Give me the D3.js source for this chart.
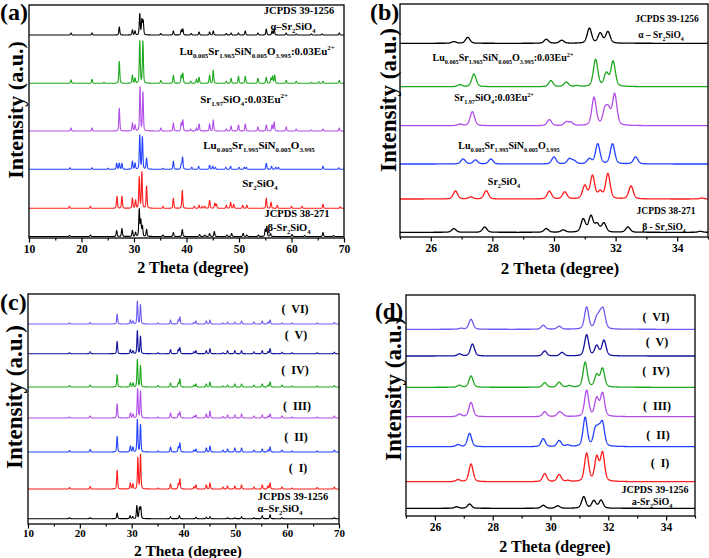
<!DOCTYPE html>
<html><head><meta charset="utf-8">
<script src="https://cdn.jsdelivr.net/npm/d3@7"></script>
<style>body{margin:0;background:#fff}svg{display:block}text{font-family:"Liberation Serif","Times New Roman",serif;font-weight:bold}</style>
</head><body><svg id="c" width="709" height="558"></svg>
<script>
// ---------------- DATA (peak position 2θ, relative intensity a.u.) ----------------
// Panel (a): 10–70°
const aAlphaRef = [[18.0,2],[22.0,2],[27.2,8],[29.7,5],[30.2,4],[31.1,21],[31.5,15],[31.75,14],[35.1,1.5],[37.5,4],[39.0,5],[39.3,6],[40.9,1.5],[42.4,3],[44.4,3],[45.1,4],[47.6,1.5],[48.5,2],[49.9,2],[51.2,4],[53.6,2],[55.2,6],[56.3,4],[56.7,6],[59.0,2],[60.9,1],[63.8,1],[65.8,1],[69.1,2]];
const aLuSrEu = [[18.0,3.5],[22.0,4],[24.3,1],[27.2,22],[29.7,8],[30.2,5],[31.1,42],[31.7,42],[35.1,3],[37.5,8],[39.0,8],[39.3,10],[40.8,2],[41.9,4],[42.4,6],[44.4,8],[45.1,13],[47.6,2],[48.5,5],[49.9,7],[51.2,7],[53.6,5],[55.2,6],[56.1,5],[56.4,7],[56.8,8],[59.0,3],[60.9,2],[63.8,1],[65.2,1.5],[66.0,2],[69.1,3]];
const aSrEu = [[18.0,3],[22.0,3],[27.2,22.7],[29.7,8],[30.2,6],[31.15,44],[31.7,38.7],[35.1,3],[37.5,8],[39.0,8],[39.3,11],[40.8,2],[41.9,3],[42.4,7],[44.4,7],[45.1,11],[47.6,2],[48.5,5],[49.9,6],[51.2,7],[53.6,4],[55.2,6],[56.3,6],[56.7,9],[59.0,4],[60.9,2],[63.8,1],[66.0,2],[69.1,3]];
const aLuSr = [[17.8,1.5],[22.0,1.5],[25.0,1],[26.7,6],[27.2,6],[27.7,6],[29.7,8],[30.2,6],[31.1,34],[31.6,32],[32.4,11],[35.5,1],[37.5,8],[39.0,5],[39.25,12],[41.0,2],[42.3,3],[44.4,4],[45.0,3],[45.5,2],[47.5,2],[48.4,3],[50.0,2],[51.0,2],[51.4,2],[55.2,6],[56.2,3],[57.0,2],[57.5,2],[66.0,3],[69.0,1.5]];
const aSr2SiO4 = [[17.7,2],[21.7,2],[26.75,12],[27.7,12],[29.7,10],[30.3,8],[31.0,31],[31.5,36],[32.4,22],[35.5,2],[37.5,10],[39.2,18],[41.5,2],[42.4,3],[43.0,2],[43.5,2],[44.4,8],[45.4,5],[45.7,4],[47.6,3],[48.4,6],[49.0,4],[50.7,3],[51.5,3],[55.2,10],[56.1,6],[57.3,3],[60.0,2],[62.0,2],[66.0,4],[69.3,1.5]];
const aBetaRef = [[17.7,1],[21.7,1.5],[26.7,6],[27.7,8],[29.7,6],[30.3,4],[31.0,27],[31.3,16],[31.6,10],[32.4,7],[35.5,1.5],[37.5,4],[39.2,7],[42.5,2],[43.5,1.5],[44.4,3],[45.3,5],[47.7,1.5],[48.6,3],[50.8,3],[51.5,1.5],[53.7,1.5],[55.0,7],[55.3,10],[56.0,3],[60.1,2],[62.5,1],[66.0,4],[68.0,1]];

// Panel (b): 25–35°
const bAlphaRef = [[26.75,1.7],[27.2,6],[29.75,4],[30.25,3],[31.15,15],[31.5,10],[31.75,11.5]];
const bLuSrEu = [[26.95,2],[27.4,12.7],[29.9,6],[30.4,4.5],[30.75,1],[31.35,27],[31.7,13],[31.92,25]];
const bSrEu = [[26.95,1.5],[27.35,14],[29.85,6],[30.4,3.5],[30.55,3],[31.3,28],[31.65,14],[31.77,14],[31.97,31]];
const bLuSr = [[27.05,5],[27.45,4],[27.95,5],[30.0,7],[30.5,5],[30.65,3],[31.15,5],[31.42,20],[31.9,20],[32.65,7]];
const bSr2SiO4 = [[26.8,8],[27.3,2],[27.8,8.3],[29.85,7.7],[30.35,7],[31.0,13],[31.25,23],[31.5,7],[31.75,25],[32.5,13],[34.8,1]];
const bBetaRef = [[26.75,3.7],[27.75,5.3],[29.75,3.7],[30.3,2.3],[30.95,13],[31.2,16],[31.4,8],[31.62,9],[32.4,5.3],[34.75,1]];

// Panel (c): 10–70°, samples I–VI
const cVI = [[18.0,1],[22.0,1.5],[27.2,10],[29.75,4],[30.25,3],[31.1,22.7],[31.7,19.3],[35.1,1],[37.5,4],[39.0,4],[39.3,7],[42.0,1.5],[42.4,3],[44.4,3],[45.1,4],[47.6,1],[48.5,2],[49.9,2],[51.2,3],[53.6,2],[55.2,3],[56.3,2],[56.7,4],[59.0,1],[60.9,1],[65.8,1],[69.1,1.5]];
const cV = [[18.0,1],[22.0,2],[27.2,12.3],[29.75,4],[30.25,3],[31.1,23],[31.7,17.3],[35.1,1],[37.5,4],[39.0,4],[39.3,6],[42.0,2],[42.4,3],[44.4,3],[45.1,5],[47.6,1],[48.5,3],[49.9,3],[51.2,3],[53.6,2],[55.2,3],[56.3,2],[56.7,5],[59.0,1.5],[60.9,1],[65.8,1],[69.1,1.5]];
const cIV = [[18.0,1.5],[22.0,2],[27.2,12.3],[29.75,4],[30.25,4],[31.1,27.3],[31.7,21.3],[35.1,1.5],[37.5,4],[39.0,4],[39.3,8],[42.0,2],[42.4,3],[44.4,3],[45.1,5],[47.6,1],[48.5,2],[49.9,3],[51.2,3],[53.6,2],[55.2,3],[56.3,2],[56.7,5],[59.0,2],[60.9,1],[65.8,1],[69.1,1.5]];
const cIII = [[18.0,1],[22.0,2],[27.2,14.3],[29.75,5],[30.25,4],[31.15,29],[31.7,26.7],[35.1,1],[37.5,5],[39.0,4],[39.3,6],[42.0,2],[42.4,3],[44.4,4],[45.1,7],[47.6,1.5],[48.5,3],[49.9,3],[51.2,4],[53.6,2],[55.2,3],[56.3,2],[56.7,4],[59.0,2],[60.9,1],[65.8,1],[69.1,2]];
const cII = [[18.0,1.5],[22.0,2.5],[27.2,15.7],[29.75,6],[30.25,5],[31.1,32.3],[31.7,27.3],[35.1,1],[37.5,5],[39.0,5],[39.3,9],[42.0,2],[42.4,3],[44.4,4],[45.1,6],[47.6,2],[48.5,3],[49.9,4],[51.2,4],[53.6,2],[55.2,3],[56.3,2],[56.7,5],[59.0,2],[60.9,1],[65.8,1],[69.1,2]];
const cI = [[18.0,1.5],[22.0,2.5],[27.2,18.7],[29.75,6],[30.25,5],[31.2,31],[31.7,34.3],[35.1,1],[37.5,5],[39.0,5],[39.3,10],[42.0,2],[42.4,4],[44.4,4],[45.1,6],[47.6,2],[48.5,3],[49.9,3],[51.2,4],[53.6,2],[55.2,4],[56.3,3],[56.7,6],[59.0,2],[60.9,1],[65.8,1.5],[69.1,2]];
const cAlphaRef = [[18.0,1],[22.0,1],[27.2,5.7],[29.7,3],[30.2,2],[31.0,13],[31.5,10.7],[31.75,11.3],[37.5,2],[39.2,3],[42.4,1.5],[44.4,1.5],[45.1,2],[48.5,1],[49.9,1],[51.2,2],[53.6,1],[55.2,3],[56.7,4],[59.0,1],[69.1,1]];

// Panel (d): 25–35°, samples I–VI
const dVI = [[26.9,1],[27.25,10],[29.75,4],[30.3,3],[31.25,22],[31.6,10],[31.72,11],[31.83,17]];
const dV = [[26.85,2],[27.3,12],[29.8,5],[30.4,3.5],[31.25,21],[31.6,10],[31.85,15.5]];
const dIV = [[26.85,2],[27.25,11.3],[29.8,4.5],[30.3,5],[30.65,1.5],[31.2,25],[31.6,12],[31.8,18.5]];
const dIII = [[26.85,2.5],[27.25,14.3],[29.8,5],[30.3,4],[30.4,2],[31.25,26],[31.6,18],[31.8,23]];
const dII = [[26.8,2],[27.2,13.3],[29.75,8],[30.3,6],[30.6,1.5],[31.2,29],[31.55,15],[31.67,13],[31.8,22]];
const dI = [[26.8,2],[27.25,17.7],[29.8,8],[30.3,7],[30.6,1],[31.25,28],[31.6,24],[31.8,28.5]];
const dAlphaRef = [[26.75,1.5],[27.2,4.3],[29.75,3],[30.25,2.5],[31.15,11.5],[31.5,7.5],[31.75,8]];

// tick labels
const ticksWide = [10,20,30,40,50,60,70];
const ticksNarrow = [26,28,30,32,34];

// ---------------- DRAW ----------------
const svg = d3.select('#c');
const C = {black:'#000', green:'#1ea81e', purple:'#b24eea', blue:'#2242ff', red:'#ff1c1c', navy:'#12129c', lav:'#6b5cf4'};

function profile(peaks, dom, step, fwhm){
  const pts=[]; const eta=0.35, k=4*Math.LN2;
  for(let x=dom[0]; x<=dom[1]+1e-9; x+=step){
    let v=0;
    for(const [p,h] of peaks){ const d=(x-p)/fwhm; if(Math.abs(d)>12) continue;
      v += h*(eta/(1+4*d*d) + (1-eta)*Math.exp(-k*d*d)); }
    pts.push([x,v]);
  }
  return pts;
}
function rich(t, str, fs){
  const parts = str.split(/(_\{[^}]*\}|\^\{[^}]*\})/).filter(s=>s.length);
  let st=0;
  parts.forEach(p=>{
    const s=t.append('tspan');
    if(p.startsWith('_{')){ const o=fs*0.3; s.text(p.slice(2,-1)).attr('font-size',fs*0.62).attr('dy',o-st); st=o; }
    else if(p.startsWith('^{')){ const o=-fs*0.42; s.text(p.slice(2,-1)).attr('font-size',fs*0.62).attr('dy',o-st); st=o; }
    else { s.text(p).attr('dy',-st); st=0; }
  });
}

function panel(cfg){
  const g = svg.append('g');
  const x = d3.scaleLinear().domain(cfg.dom).range([cfg.L, cfg.R]);
  const y = d3.scaleLinear().domain([0, cfg.B-cfg.T]).range([cfg.B, cfg.T]);
  const id='clip'+cfg.name;
  svg.append('clipPath').attr('id',id).append('rect').attr('x',cfg.L).attr('y',cfg.T).attr('width',cfg.R-cfg.L).attr('height',cfg.B-cfg.T);
  const line = d3.line().x(d=>x(d[0])).y(d=>y(d[1]));
  const lg = g.append('g').attr('clip-path',`url(#${id})`);
  cfg.series.forEach(s=>{
    const pts = profile(s.peaks, cfg.dom, cfg.step, cfg.fwhm).map(d=>[d[0], d[1]+s.off]);
    lg.append('path').attr('d',line(pts)).attr('fill','none').attr('stroke',s.color).attr('stroke-width',cfg.sw).attr('stroke-linejoin','round');
  });
  // frame
  g.append('rect').attr('x',cfg.L).attr('y',cfg.T).attr('width',cfg.R-cfg.L).attr('height',cfg.B-cfg.T).attr('fill','none').attr('stroke','#000').attr('stroke-width',1.3);
  // minor ticks
  const ax = g.append('g').attr('transform',`translate(0,${cfg.B})`)
    .call(d3.axisBottom(x).tickValues(cfg.minor).tickSize(2.5).tickFormat(''));
  ax.select('.domain').remove();
  const axM = g.append('g').attr('transform',`translate(0,${cfg.B})`)
    .call(d3.axisBottom(x).tickValues(cfg.ticks).tickSize(4.5).tickSizeOuter(0).tickPadding(cfg.tpad).tickFormat(d3.format('d')));
  axM.select('.domain').remove();
  axM.selectAll('text').attr('font-size',cfg.tfs).attr('font-family','Liberation Serif').attr('font-weight','bold').attr('fill','#000');
  g.selectAll('.tick line').attr('stroke','#000').attr('stroke-width',1.2);
  // titles
  g.append('text').attr('x',cfg.xtx).attr('y',cfg.xty).attr('text-anchor','middle').attr('font-size',cfg.xfs).text('2 Theta (degree)');
  g.append('text').attr('transform',`translate(${cfg.ytx},${cfg.yty}) rotate(-90)`).attr('text-anchor','middle').attr('dominant-baseline','central').attr('font-size',cfg.yfs).text('Intensity (a.u.)');
  g.append('text').attr('x',cfg.plx).attr('y',cfg.ply).attr('font-size',cfg.plfs).text(cfg.plabel);
  cfg.labels.forEach(l=>{
    const t=g.append('text').attr('x',l[0]).attr('y',l[1]).attr('text-anchor','middle').attr('font-size',l[3]).attr('xml:space','preserve').style('white-space','pre');
    rich(t,l[2],l[3]);
  });
}

panel({name:'a', dom:[10,70], L:29, R:344, T:5, B:238, step:0.02, fwhm:0.22, sw:1.1,
  ticks:ticksWide, minor:[15,25,35,45,55,65], tfs:11.5, tpad:2,
  xtx:193, xty:273, xfs:16, ytx:15, yty:110, yfs:22, plx:0, ply:20, plfs:24, plabel:'(a)',
  series:[
    {peaks:aAlphaRef, off:203, color:C.black},
    {peaks:aLuSrEu, off:154.7, color:C.green},
    {peaks:aSrEu, off:107, color:C.purple},
    {peaks:aLuSr, off:68.7, color:C.blue},
    {peaks:aSr2SiO4, off:29.7, color:C.red},
    {peaks:aBetaRef, off:1.5, color:C.black}],
  labels:[
    [299,14,'JCPDS 39-1256',10.5],[293,30,'α–Sr_{2}SiO_{4}',10.5],
    [257,55,'Lu_{0.005}Sr_{1.965}SiN_{0.005}O_{3.995}:0.03Eu^{2+}',11],
    [244,103,'Sr_{1.97}SiO_{4}:0.03Eu^{2+}',11],
    [259,149,'Lu_{0.005}Sr_{1.995}SiN_{0.005}O_{3.995}',11],
    [260,187,'Sr_{2}SiO_{4}',11],
    [297,217,'JCPDS 38-271',10.5],[289,231,'β-Sr_{2}SiO_{4}',10.5]]
});

panel({name:'b', dom:[25,35], L:400, R:708, T:4, B:237, step:0.005, fwhm:0.17, sw:1.3,
  ticks:ticksNarrow, minor:[25,27,29,31,33,35], tfs:11.5, tpad:2,
  xtx:560, xty:274, xfs:17, ytx:388, yty:100, yfs:23, plx:370, ply:20, plfs:24, plabel:'(b)',
  series:[
    {peaks:bAlphaRef, off:193.7, color:C.black},
    {peaks:bLuSrEu, off:150.3, color:C.green},
    {peaks:bSrEu, off:111.3, color:C.purple},
    {peaks:bLuSr, off:73, color:C.blue},
    {peaks:bSr2SiO4, off:38, color:C.red},
    {peaks:bBetaRef, off:4.7, color:C.black}],
  labels:[
    [667,22,'JCPDS 39-1256',9.5],[661,38,'α – Sr_{2}SiO_{4}',9.5],
    [503,61,'Lu_{0.005}Sr_{1.965}SiN_{0.005}O_{3.995}:0.03Eu^{2+}',10],
    [494,101,'Sr_{1.97}SiO_{4}:0.03Eu^{2+}',10],
    [509,149,'Lu_{0.005}Sr_{1.995}SiN_{0.005}O_{3.995}',10],
    [504,185,'Sr_{2}SiO_{4}',10],
    [666,214,'JCPDS 38-271',9.5],[664,230,'β - Sr_{2}SiO_{4}',9.5]]
});

panel({name:'c', dom:[10,70], L:28, R:339, T:294, B:524, step:0.02, fwhm:0.22, sw:1.1,
  ticks:ticksWide, minor:[15,25,35,45,55,65], tfs:11, tpad:1,
  xtx:188, xty:556, xfs:15.5, ytx:14, yty:397, yfs:23, plx:0, ply:310, plfs:24, plabel:'(c)',
  series:[
    {peaks:cVI, off:200, color:C.lav},
    {peaks:cV, off:170.3, color:C.navy},
    {peaks:cIV, off:137, color:C.green},
    {peaks:cIII, off:106, color:C.purple},
    {peaks:cII, off:72, color:C.blue},
    {peaks:cI, off:35, color:C.red},
    {peaks:cAlphaRef, off:5.3, color:C.black}],
  labels:[
    [295,313,'(  VI)',12],[296,339,'(  V)',12],[295,374,'(  IV)',12],[297,410,'(  III)',12],
    [296,441,'(  II)',12],[298,472,'(  I)',12],
    [293,500,'JCPDS 39-1256',10.5],[280,512,'α–Sr_{2}SiO_{4}',10.5]]
});

panel({name:'d', dom:[25,35], L:406, R:695, T:295, B:516, step:0.005, fwhm:0.17, sw:1.3,
  ticks:ticksNarrow, minor:[25,27,29,31,33,35], tfs:11.5, tpad:2,
  xtx:555, xty:552, xfs:16, ytx:393, yty:389, yfs:23, plx:375, ply:319, plfs:23, plabel:'(d)',
  series:[
    {peaks:dVI, off:186.7, color:C.lav},
    {peaks:dV, off:160, color:C.navy},
    {peaks:dIV, off:128.7, color:C.green},
    {peaks:dIII, off:99.3, color:C.purple},
    {peaks:dII, off:69.3, color:C.blue},
    {peaks:dI, off:34.3, color:C.red},
    {peaks:dAlphaRef, off:7.7, color:C.black}],
  labels:[
    [656,321,'(  VI)',12],[657,346,'(  V)',12],[656,375,'(  IV)',12],[657,410,'(  III)',12],
    [658,439,'(  II)',12],[660,467,'(  I)',12],
    [655,493,'JCPDS 39-1256',10],[652,505,'a-Sr_{2}SiO_{4}',10]]
});
</script></body></html>
